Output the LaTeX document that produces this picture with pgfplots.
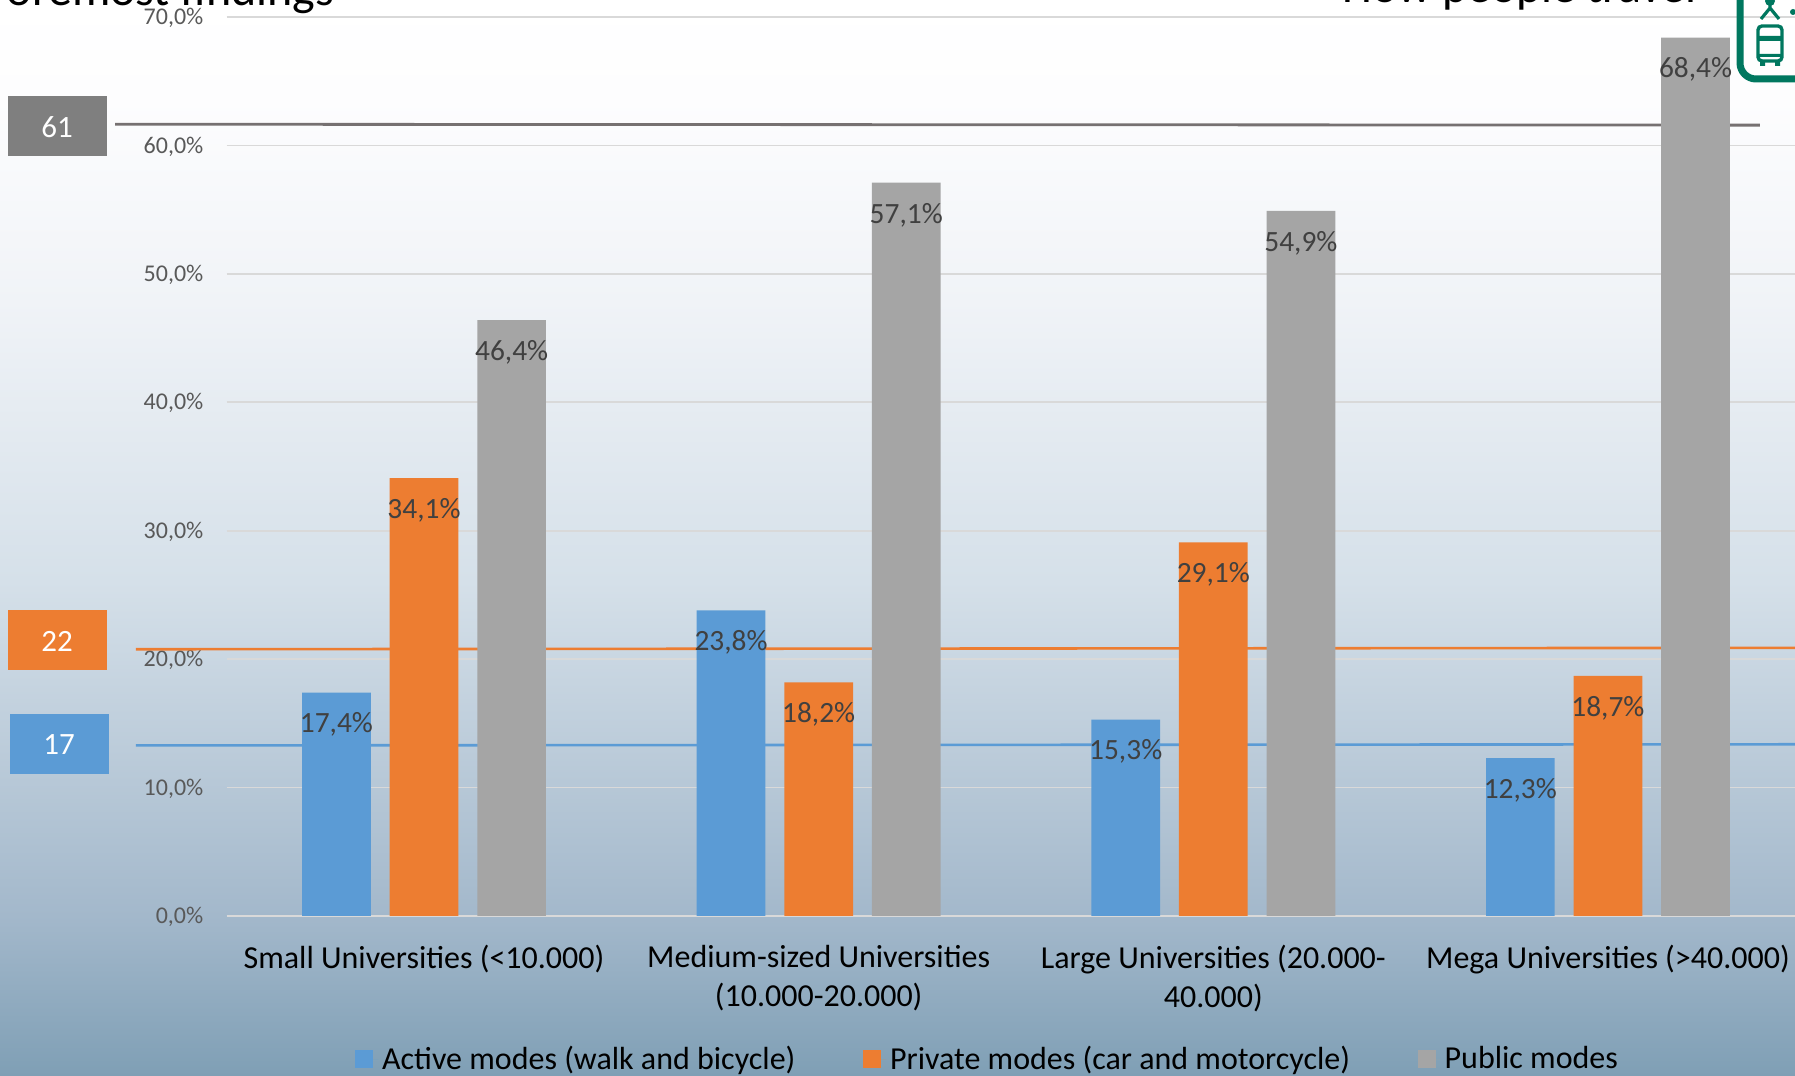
\documentclass[border=0pt]{standalone}
\usepackage{fontspec}
\setmainfont{Carlito}
\usepackage{pgfplots}
\usepackage{pgfplotstable}
\pgfplotsset{compat=1.18}

\definecolor{actblue}{HTML}{5B9BD5}
\definecolor{privorange}{HTML}{ED7D31}
\definecolor{pubgray}{HTML}{A5A5A5}
\definecolor{boxgray}{HTML}{7F7F7F}
\definecolor{linegray}{HTML}{767171}
\definecolor{gridgray}{HTML}{D9D9D9}
\definecolor{logogreen}{HTML}{00775F}
\definecolor{bg0}{HTML}{7F9FB5}
\definecolor{bg1}{HTML}{A3B8CB}
\definecolor{bg2}{HTML}{D5E0E9}
\definecolor{bg3}{HTML}{F0F3F7}
\definecolor{bg4}{HTML}{FDFDFE}

% the path maps onto 25bp..75bp of the shading
\pgfdeclareverticalshading{slidebg}{100bp}{
  color(0bp)=(bg0); color(25bp)=(bg0); color(32.45bp)=(bg1); color(48bp)=(bg2);
  color(61bp)=(bg3); color(70.35bp)=(bg4); color(75bp)=(white); color(100bp)=(white)}

\pgfplotstableread{
id active private public
0  17.4   34.1    46.4
1  23.8   18.2    57.1
2  15.3   29.1    54.9
3  12.3   18.7    68.4
}\unis

\newcommand{\boxfont}{\fontsize{15.5}{18}\selectfont}

\begin{document}
\begin{tikzpicture}
  \useasboundingbox (0,0) rectangle (897.5pt,538pt);
  \clip (0,0) rectangle (897.5pt,538pt);
  \shade[shading=slidebg] (0,0) rectangle (897.5pt,538pt);

  \begin{axis}[
    at={(113.35pt,80pt)}, anchor=south west,
    scale only axis, width=784.15pt, height=449.5pt,
    clip=false,
    xmin=-0.5, xmax=3.474, ymin=0, ymax=70,
    axis line style={draw=none},
    major tick length=0pt,
    tick style={draw=none},
    ymajorgrids=true,
    major grid style={gridgray,line width=0.8pt},
    ytick={0,10,...,70},
    xtick={0,1,2,3},
    xticklabels={
      {Small Universities (<10.000)},
      {Medium-sized Universities\\(10.000-20.000)},
      {Large Universities (20.000-\\40.000)},
      {Mega Universities (>40.000)}},
    xticklabel style={align=center,anchor=north,yshift=-12.4pt,inner sep=2pt,
      font=\fontsize{16}{19.5}\selectfont,text=black},
    yticklabel={\pgfmathprintnumber{\tick}\%},
    yticklabel style={anchor=east,inner sep=0pt,xshift=-11.5pt,yshift=-0.5pt,
      font=\fontsize{12}{14}\selectfont,text=black!65},
    /pgf/number format/.cd,use comma,fixed,fixed zerofill,precision=1,assume math mode=true,
    /pgfplots/.cd,
    legend columns=3,
    legend style={at={(0.4858,-0.1595)},anchor=center,draw=none,fill=none,
      font=\fontsize{16}{18}\selectfont,inner sep=0pt,
      /tikz/every even column/.append style={column sep=31.85pt}},
    legend cell align=left,
    legend image code/.code={\fill[#1] (0pt,-4.5pt) rectangle (9pt,4.5pt);\path (9pt,0pt) -- (11.5pt,0pt);},
    modebar/.style={ybar,bar width=34.35pt,draw=none,bar shift=#1,
      nodes near coords={\pgfmathprintnumber{\pgfplotspointmeta}\%},
      nodes near coords style={anchor=center,xshift=#1,yshift=-16.1pt,inner sep=0pt,
        font=\fontsize{14.7}{17}\selectfont,text=black!75}},
  ]
    % survey averages, behind the bars
    \addplot[forget plot,linegray,line width=1.4pt] coordinates {(-0.783,61.65) (3.385,61.58)};
    \addplot[forget plot,privorange,line width=1.3pt] coordinates {(-0.73,20.77) (3.474,20.88)};
    \addplot[forget plot,actblue,line width=1.3pt] coordinates {(-0.73,13.28) (3.474,13.37)};

    \addplot[modebar=-43.8pt,fill=actblue] table[x=id,y=active] {\unis};
    \addlegendentry{Active modes (walk and bicycle)}
    \addplot[modebar=0pt,fill=privorange] table[x=id,y=private] {\unis};
    \addlegendentry{Private modes (car and motorcycle)}
    \addplot[modebar=43.8pt,fill=pubgray] table[x=id,y=public] {\unis};
    \addlegendentry{Public modes}
  \end{axis}

  % slide furniture, coordinates in reference pixels
  \begin{scope}[shift={(0,538pt)},x=0.5pt,y=-0.5pt]
    \fill[boxgray] (8,96) rectangle (107,156);
    \node[text=white,font=\boxfont] at (57,127) {61};
    \fill[privorange] (8,610) rectangle (107,670);
    \node[text=white,font=\boxfont] at (57,641) {22};
    \fill[actblue] (10,714) rectangle (109,774);
    \node[text=white,font=\boxfont] at (59,745) {17};

    \node[anchor=base west,inner sep=0pt,font=\fontsize{24}{28}\selectfont] at (-15,6) {Foremost findings};
    \node[anchor=base west,inner sep=0pt,font=\fontsize{23.9}{28}\selectfont] at (1342,3) {How people travel};

    % logo corner
    \draw[logogreen,line width=3.5pt,rounded corners=8pt] (1740,-30) rectangle (1840,79);
    \fill[logogreen] (1770,1) circle (5);
    \draw[logogreen,line width=1.6pt] (1770,0) -- (1770,10) (1761,19) -- (1770,8) -- (1779,19);
    \fill[logogreen] (1793,12) circle (3);
    \draw[logogreen,line width=1.7pt,rounded corners=2pt] (1758,26) rectangle (1782,61);
    \fill[logogreen] (1758,36) rectangle (1782,41) (1758,54) rectangle (1782,57);
    \fill[logogreen] (1760,61) rectangle (1765,66) (1775,61) rectangle (1780,66);
  \end{scope}
\end{tikzpicture}
\end{document}
